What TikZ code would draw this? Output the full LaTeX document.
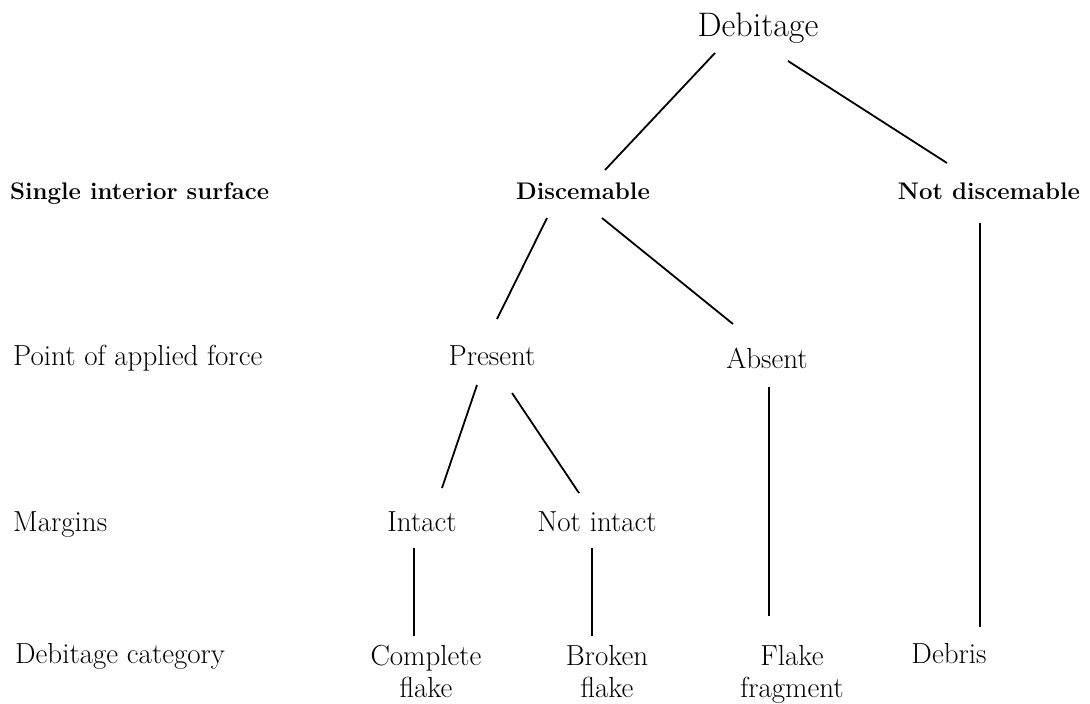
\documentclass[tikz,border=0pt]{standalone}
\usepackage{tikz}
\usetikzlibrary{calc}

\begin{document}
\begin{tikzpicture}[
    x=1pt, y=-1pt,
    choice/.style={anchor=base, inner sep=0pt, font=\fontsize{29}{32}\selectfont},
    surface/.style={anchor=base, inner sep=0pt, font=\fontsize{24}{28}\selectfont\bfseries},
    rowname/.style={choice, anchor=base west},
    root/.style={choice, font=\fontsize{34}{38}\selectfont},
    cat/.style={choice, align=center},
    link/.style={line width=1.8pt}
  ]
    \useasboundingbox (0,0) rectangle (1090,704);
    % row names
    \node[surface, anchor=base west] (rsurf) at (10,199) {Single interior surface};
    \node[rowname] (rforce) at (13,365) {Point of applied force};
    \node[rowname] (rmarg) at (13,531) {Margins};
    \node[rowname] (rcat) at (15,663) {Debitage category};
    % tree (two-line nodes sit on their last line)
    \node[root] (deb) at (758,36) {Debitage};
    \node[surface] (disc) at (583,199) {Discemable};
    \node[surface] (notdisc) at (989,199) {Not discemable};
    \node[choice] (pres) at (492,365) {Present};
    \node[choice] (abs) at (767,368) {Absent};
    \node[choice] (intact) at (422,531) {Intact};
    \node[choice] (notint) at (597,531) {Not intact};
    \node[cat] (complete) at (426,697) {Complete\\flake};
    \node[cat] (broken) at (607,697) {Broken\\flake};
    \node[cat] (frag) at (792,697) {Flake\\fragment};
    \node[cat] (debris) at (949,663) {Debris};
    \draw[link] ($(deb.base)+(-43,17)$) -- ($(disc.base)+(22,-29)$);
    \draw[link] ($(deb.base)+(30,25)$) -- ($(notdisc.base)+(-42,-36)$);
    \draw[link] ($(disc.base)+(-36,19)$) -- ($(pres.base)+(5,-46)$);
    \draw[link] ($(disc.base)+(19,19)$) -- ($(abs.base)+(-34,-44)$);
    \draw[link] ($(notdisc.base)+(-9,24)$) -- ($(debris.base)+(31,-36)$);
    \draw[link] ($(pres.base)+(-15,20)$) -- ($(intact.base)+(20,-43)$);
    \draw[link] ($(pres.base)+(20,28)$) -- ($(notint.base)+(-18,-38)$);
    \draw[link] ($(abs.base)+(2,19)$) -- ($(frag.base)+(-23,-81)$);
    \draw[link] ($(intact.base)+(-8,17)$) -- ($(complete.base)+(-12,-61)$);
    \draw[link] ($(notint.base)+(-5,17)$) -- ($(broken.base)+(-15,-61)$);
  \end{tikzpicture}
\end{document}
